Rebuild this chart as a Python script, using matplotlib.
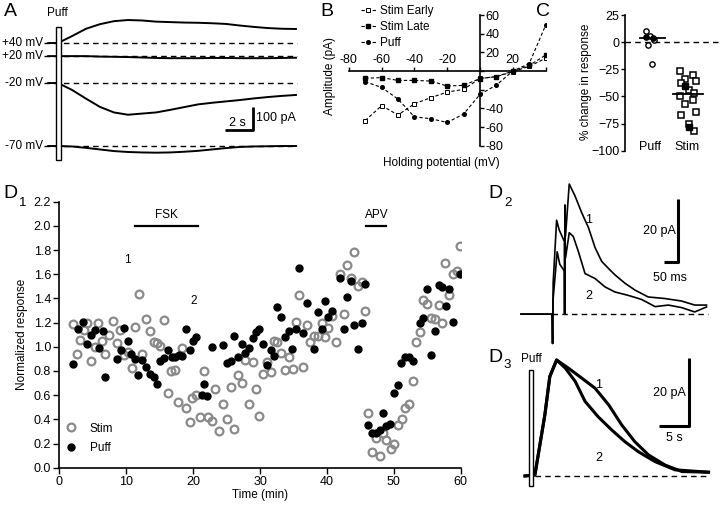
import matplotlib
matplotlib.use('Agg')
import matplotlib.pyplot as plt
from matplotlib.patches import Rectangle
from matplotlib.lines import Line2D

plt.rcParams['font.family'] = ['Liberation Sans', 'DejaVu Sans']
plt.rcParams['font.size'] = 8.5

# ---- panel A: puff responses at four holding potentials (s, pA)
a_time = [-0.7, 0, 1, 2, 3, 4, 5, 6, 7, 8, 9, 10, 11, 12, 13, 14, 15, 16, 17]
a_p40 = [0, 0, 30, 62, 82, 95, 100, 98, 93, 91, 89, 88, 86, 83, 76, 70, 65, 62, 61]
a_p20 = [0, 0, 0, 0, -2, -3, -4, -6, -8, -9, -9, -9, -8, -8, -9, -9, -9, -8, -7]
a_m20 = [0, 0, -30, -68, -104, -128, -138, -133, -128, -117, -105, -93, -86, -80, -74, -67, -61, -56, -52]
a_m70 = [0, 0, -2, -8, -15, -22, -26, -28, -29, -28, -25, -21, -15, -9, -4, -2, -1, 0, 0]
a_labels = ['+40 mV', '+20 mV', '-20 mV', '-70 mV']

# ---- panel B: I-V relation
b_volt = [-70, -60, -50, -40, -30, -20, -10, 0, 10, 20, 30, 40]
b_early = [-53, -37, -47, -35, -28.5, -22.5, -19.6, -7.8, -6, -0.7, 5, 13.6]
b_late = [-7.8, -7, -10, -10, -10.7, -16, -15.3, -8, -6, 0, 6, 17]
b_puff = [-11.4, -17.5, -30, -49, -51, -55, -46, -25, -15, 0, 8, 49]

# ---- panel C: % change
c_puff_open = [10, 6, 2, -3, -20]
c_puff_filled = [5, 4]
c_stim_open = [-27, -30, -34, -36, -38, -44, -47, -50, -53, -57, -64, -67, -75, -82]
c_stim_filled = [-40, -78]
c_means = [3.4, -48]

# ---- panel D1: time course
stim_t = [2.1, 2.6, 3.1, 3.7, 4.2, 4.7, 5.3, 5.8, 6.4, 6.9, 7.5, 8.1, 8.6, 9.1, 9.7, 10.2,
          10.8, 11.3, 11.9, 12.4, 12.9, 13.5, 14.1, 14.6, 15.1, 15.7, 16.3, 16.7, 17.3, 17.8,
          18.4, 18.9, 19.5, 19.9, 20.5, 21.1, 21.6, 22.3, 22.8, 23.3, 23.9, 24.5, 25.1, 25.6,
          26.1, 26.7, 27.3, 27.8, 28.4, 28.9, 29.4, 29.9, 30.5, 31.0, 31.6, 32.1, 32.6, 33.2,
          33.7, 34.3, 34.9, 35.4, 35.9, 36.5, 37.0, 37.5, 38.1, 38.6, 39.2, 39.7, 40.2, 40.8,
          41.4, 41.9, 42.5, 43.0, 43.6, 44.1, 44.6, 45.2, 45.7, 46.2, 46.8, 47.3, 47.9, 48.4,
          48.9, 49.6, 50.1, 50.7, 51.2, 51.7, 52.3, 52.8, 53.3, 53.9, 54.4, 54.9, 55.6, 56.1,
          56.7, 57.2, 57.7, 58.3, 58.8, 59.4, 59.9]
stim_v = [1.185, 0.94, 1.055, 1.138, 1.199, 0.885, 1.0, 1.193, 1.05, 0.94, 1.097, 1.213, 1.028,
          1.138, 0.929, 0.959, 0.821, 1.16, 1.433, 0.943, 1.232, 1.133, 1.042, 1.028, 1.009,
          1.218, 0.615, 0.802, 0.808, 0.546, 0.992, 0.496, 0.38, 0.58, 0.601, 0.416, 0.802,
          0.422, 0.386, 0.651, 0.303, 0.527, 0.40, 0.67, 0.323, 0.766, 0.697, 0.89, 0.524,
          0.876, 0.648, 0.427, 0.775, 0.876, 0.788, 1.05, 1.039, 0.945, 0.808, 0.918, 0.816,
          1.204, 1.427, 0.83, 1.18, 1.042, 1.091, 1.091, 1.193, 1.083, 1.152, 1.254, 1.042,
          1.606, 1.27, 1.675, 1.573, 1.78, 1.502, 1.538, 1.298, 0.45, 0.133, 0.248, 0.097,
          0.29, 0.229, 0.152, 0.2, 0.353, 0.403, 0.496, 0.524, 0.719, 1.042, 1.122, 1.386,
          1.353, 1.235, 1.226, 1.345, 1.199, 1.695, 1.427, 1.601, 1.626, 1.832]
puff_t = [2.1, 2.75, 3.6, 4.2, 4.7, 5.3, 5.9, 6.5, 6.9, 8.6, 9.2, 9.7, 10.2, 10.7, 11.3, 11.8,
          12.4, 13.0, 13.6, 14.1, 14.6, 15.1, 15.7, 16.2, 16.8, 17.3, 17.9, 18.4, 18.9, 19.5,
          20.0, 20.5, 21.3, 21.6, 22.1, 22.8, 24.4, 25.0, 25.6, 26.1, 26.7, 27.3, 27.8, 28.4,
          28.9, 29.4, 29.9, 30.5, 31.1, 31.6, 32.1, 32.6, 33.2, 33.7, 34.3, 34.8, 35.4, 35.9,
          36.5, 37.0, 38.1, 38.6, 39.2, 39.7, 40.2, 40.7, 41.9, 42.5, 43.0, 43.6, 44.1, 44.6,
          45.2, 45.7, 46.2, 46.8, 47.3, 47.9, 48.4, 48.9, 49.4, 50.1, 50.6, 51.1, 51.7, 52.2,
          52.8, 53.9, 54.4, 54.9, 55.6, 56.1, 56.7, 57.2, 57.8, 58.3, 58.8, 59.9]
puff_v = [0.857, 1.144, 1.207, 1.022, 1.097, 1.138, 0.987, 1.13, 0.753, 0.896, 0.973, 1.157,
          1.047, 0.94, 0.896, 0.769, 0.89, 0.832, 0.772, 0.747, 0.689, 0.885, 0.904, 0.973,
          0.918, 0.918, 0.932, 0.923, 1.149, 0.973, 1.05, 1.083, 0.60, 0.692, 0.593, 0.995,
          1.014, 0.868, 0.885, 1.088, 0.912, 1.022, 0.945, 0.987, 1.069, 1.124, 1.144, 1.022,
          0.846, 0.973, 0.926, 1.326, 1.243, 1.083, 1.13, 0.978, 1.144, 1.653, 1.116, 1.359,
          0.981, 1.29, 1.144, 1.38, 1.243, 1.298, 1.565, 1.144, 1.414, 1.546, 1.18, 0.978,
          1.193, 1.518, 0.353, 0.29, 0.284, 0.312, 0.455, 0.345, 0.361, 0.62, 0.684, 0.868,
          0.912, 0.918, 0.885, 1.193, 1.235, 1.474, 0.932, 1.133, 1.515, 1.496, 1.337, 1.474,
          1.207, 1.606]
fsk_span = [11.3, 20.7]
apv_span = [45.9, 48.9]

# ---- panel D2: evoked EPSCs (ms, pA)
d2_t1 = [0, 108, 110, 112, 124, 133, 151, 152, 153, 155, 168, 188, 211, 235, 258, 281, 304,
         327, 362, 397, 443, 501, 559, 605, 646]
d2_i1 = [0, 0, -9.4, 10, 30.1, 27, 23.3, 0, 35, 25, 41.7, 37.9, 32.6, 27.7, 21.3, 16.9, 14.7,
         12.6, 9.9, 7.7, 5.5, 5.0, 4.2, 2.9, 2.9]
d2_t2 = [0, 108, 110, 112, 126, 135, 151, 152, 153, 155, 168, 182, 200, 223, 258, 293, 327,
         374, 420, 467, 513, 559, 605, 646]
d2_i2 = [0, 0, -9.4, 5, 20, 16, 13.8, 0, 26, 18, 26.1, 24.9, 20, 13.0, 11.4, 8.7, 7.1, 6.0,
         4.7, 2.4, 2.9, 2.1, 0.7, 2.3]

# ---- panel D3: puff responses (s, pA)
d3_t1 = [0, 1.6, 3.2, 4.0, 5.1, 7.0, 9.2, 11.3, 13.5, 15.6, 17.7, 19.9, 22.6, 25.3, 29.6]
d3_i1 = [0, 0.3, 17.9, 29.2, 34.1, 31.7, 28.7, 25.8, 20.9, 15.0, 10.1, 6.2, 3.2, 1.3, 1.1]
d3_t2 = [0, 1.6, 3.2, 4.0, 5.1, 6.5, 8.1, 9.7, 11.8, 14.0, 16.1, 18.3, 21.0, 24.2, 29.6]
d3_i2 = [0, 0.3, 17.9, 29.2, 34.1, 31.7, 27.8, 21.9, 17.4, 13.5, 10.1, 7.1, 4.2, 1.8, 1.1]

W, H = 720, 509
fig = plt.figure(figsize=(7.2, 5.09), dpi=100)


def px_axes(x0, y0, x1, y1):
    return fig.add_axes([x0 / W, 1 - y1 / H, (x1 - x0) / W, (y1 - y0) / H])


def ftext(x, y, s, **kw):
    fig.text(x / W, 1 - y / H, s, **kw)


DASH = (0, (4, 3))
GRAY = '#8a8a8a'

# ================= A
ax = px_axes(44, 10, 300, 165)
ax.set_xlim(-1.0, 17.29)
ax.set_ylim(-82.6, 591.6)
ax.axis('off')
offsets = [448, 391, 274, 0]
for vals, off, lab in zip([a_p40, a_p20, a_m20, a_m70], offsets, a_labels):
    ax.plot([-1.0, 17.07], [off, off], color='k', lw=1, ls=DASH)
    ax.plot(a_time, [v + off for v in vals], color='k', lw=1.4)
    ax.text(-1.05, off, lab, ha='right', va='center', fontsize=8.5)
ax.add_patch(Rectangle((-0.12, -61), 0.3, 579, fill=True, fc='white', ec='k', lw=1, zorder=3))
ax.plot([11.93, 13.93, 13.93], [70, 70, 170], color='k', lw=2, solid_capstyle='butt')
ax.text(12.8, 72, '2 s', ha='center', va='bottom', fontsize=9)
ax.text(14.15, 122, '100 pA', ha='left', va='center', fontsize=9)
ftext(57, 13, 'Puff', ha='center', va='center', fontsize=8.5)
ftext(4, 12, 'A', ha='left', va='center', fontsize=14)

# ================= B
ax = px_axes(348.8, 15, 545.6, 145.8)
ax.set_xlim(-80, 40)
ax.set_ylim(-80, 60)
ax.plot(b_volt, b_early, ls=(0, (3, 2)), lw=0.8, color='k', marker='s', ms=3.5,
        mfc='white', mec='k', mew=0.7, label='Stim Early')
ax.plot(b_volt, b_late, ls=(0, (3, 2)), lw=0.8, color='k', marker='s', ms=3.2,
        mfc='k', mec='k', label='Stim Late')
ax.plot(b_volt, b_puff, ls=(0, (3, 2)), lw=0.8, color='k', marker='o', ms=2.6,
        mfc='k', mec='k', label='Puff')
for s in ['left', 'bottom']:
    ax.spines[s].set_visible(False)
ax.spines['right'].set_position(('data', 0))
ax.spines['top'].set_position(('data', 0))
ax.spines['right'].set_linewidth(1.2)
ax.spines['top'].set_linewidth(1.2)
ax.yaxis.tick_right()
ax.xaxis.tick_top()
ax.set_xticks(range(-80, 41, 20))
ax.set_xticklabels(['-80', '-60', '-40', '-20', '', '20', ''])
ax.set_yticks(range(-80, 61, 20))
ax.set_yticklabels(['-80', '-60', '-40', '', '', '20', '40', '60'])
ax.tick_params(length=3, width=1, pad=1, labelsize=9)
ax.legend(loc='upper left', bbox_to_anchor=(356 / W, 1.0), bbox_transform=fig.transFigure,
          frameon=False, handlelength=1.3, handletextpad=0.3, labelspacing=0.35,
          fontsize=8.5, borderaxespad=0)
ftext(330, 76, 'Amplitude (pA)', rotation=90, ha='center', va='center', fontsize=8.5)
ftext(441, 163, 'Holding potential (mV)', ha='center', va='center', fontsize=8.5)
ftext(320, 12, 'B', ha='left', va='center', fontsize=14)

# ================= C
ax = px_axes(625, 15, 720, 150.7)
ax.set_xlim(0.324, 2.89)
ax.set_ylim(-100, 25)
ax.plot([0.324, 2.89], [0, 0], color='k', lw=1, ls=DASH)
pj = [-0.12, 0.0, 0.12, -0.06, 0.06]
ax.plot([1 + pj[i % 5] for i in range(len(c_puff_open))], c_puff_open, 'o', ms=3.8,
        mfc='white', mec='k', mew=1)
ax.plot([1 - 0.1, 1 + 0.08], c_puff_filled, 'o', ms=3.8, mfc='k', mec='k')
sj = [-0.2, 0.15, -0.05, 0.25, -0.15, 0.05, 0.2]
ax.plot([2 + sj[i % 7] for i in range(len(c_stim_open))], c_stim_open, 's', ms=4.2,
        mfc='white', mec='k', mew=1.1)
ax.plot([2 - 0.05, 2 + 0.05], c_stim_filled, 's', ms=4.2, mfc='k', mec='k')
ax.plot([0.73, 1.4], [c_means[0]] * 2, color='k', lw=1.3)
ax.plot([1.62, 2.43], [c_means[1]] * 2, color='k', lw=1.3)
for s in ['top', 'right', 'bottom']:
    ax.spines[s].set_visible(False)
ax.spines['left'].set_linewidth(1.2)
ax.set_yticks([-100, -75, -50, -25, 0, 25])
ax.set_xticks([])
ax.tick_params(axis='y', length=3, width=1, pad=1, labelsize=9)
ax.text(1, -97, 'Puff', ha='center', va='center', fontsize=9)
ax.text(2, -97, 'Stim', ha='center', va='center', fontsize=9)
ftext(586, 82, '% change in response', rotation=90, ha='center', va='center', fontsize=8.5)
ftext(536, 12, 'C', ha='left', va='center', fontsize=14)

# ================= D1
ax = px_axes(59.3, 201.7, 460.7, 467.7)
ax.set_xlim(0, 60)
ax.set_ylim(0, 2.2)
ax.plot(stim_t, stim_v, 'o', ms=5.6, mfc='none', mec=GRAY, mew=1.6, label='Stim')
ax.plot(puff_t, puff_v, 'o', ms=5.0, mfc='k', mec='k', label='Puff')
ax.plot(fsk_span, [2.0, 2.0], color='k', lw=1.6)
ax.plot(apv_span, [2.0, 2.0], color='k', lw=1.6)
ax.text(sum(fsk_span) / 2, 2.04, 'FSK', ha='center', va='bottom', fontsize=8.5)
ax.text(sum(apv_span) / 2, 2.04, 'APV', ha='center', va='bottom', fontsize=8.5)
ax.text(10.1, 1.72, '1', ha='center', va='center', fontsize=8.5)
ax.text(20.1, 1.38, '2', ha='center', va='center', fontsize=8.5)
for s in ['top', 'right']:
    ax.spines[s].set_visible(False)
for s in ['left', 'bottom']:
    ax.spines[s].set_linewidth(1.2)
ax.set_xticks(range(0, 61, 10))
ax.set_yticks([i / 10 for i in range(0, 23, 2)])
ax.set_yticklabels(['%.1f' % (i / 10) for i in range(0, 23, 2)])
ax.tick_params(length=4, width=1, pad=2, labelsize=9)
ax.set_xlabel('Time (min)', fontsize=8.5, labelpad=1)
ax.set_ylabel('Normalized response', fontsize=8.5, labelpad=4)
ax.legend(loc='lower left', bbox_to_anchor=(0.0, 0.035), frameon=False, handlelength=1.2,
          handletextpad=1.0, labelspacing=0.6, fontsize=8.5, borderaxespad=0)
ftext(3, 193, 'D', ha='left', va='center', fontsize=14)
ftext(19, 203, '1', ha='left', va='center', fontsize=9.5)

# ================= D2
ax = px_axes(515, 170, 720, 350)
ax.set_xlim(-20.9, 693)
ax.set_ylim(-11.5, 46.2)
ax.axis('off')
ax.plot([108, 650], [0, 0], color='k', lw=1, ls=DASH)
ax.plot(d2_t1, d2_i1, color='k', lw=1.2)
ax.plot(d2_t2, d2_i2, color='k', lw=1.2)
ax.plot([498, 548, 548], [16.8, 16.8, 36.8], color='k', lw=2.2, solid_capstyle='butt')
ax.text(540, 26.5, '20 pA', ha='right', va='center', fontsize=9)
ax.text(520, 11.5, '50 ms', ha='center', va='center', fontsize=9)
ax.text(237, 30.3, '1', ha='center', va='center', fontsize=9)
ax.text(237, 5.8, '2', ha='center', va='center', fontsize=9)
ftext(488, 193, 'D', ha='left', va='center', fontsize=14)
ftext(504, 203, '2', ha='left', va='center', fontsize=9.5)

# ================= D3
ax = px_axes(515, 345, 720, 495)
ax.set_xlim(-1.61, 31.45)
ax.set_ylim(-5.6, 38.5)
ax.axis('off')
ax.plot([1.6, 29.6], [0, 0], color='k', lw=1, ls=DASH)
ax.plot(d3_t1, d3_i1, color='k', lw=2.2)
ax.plot(d3_t2, d3_i2, color='k', lw=2.2)
ax.add_patch(Rectangle((0.65, -2.9), 0.69, 34.1, fc='white', ec='k', lw=1, zorder=3))
ax.plot([21.6, 26.5, 26.5], [14.8, 14.8, 34.8], color='k', lw=2.2, solid_capstyle='butt')
ax.text(25.9, 24.4, '20 pA', ha='right', va='center', fontsize=9)
ax.text(24.1, 11.3, '5 s', ha='center', va='center', fontsize=9)
ax.text(11.9, 26.8, '1', ha='center', va='center', fontsize=9)
ax.text(11.9, 5.3, '2', ha='center', va='center', fontsize=9)
ax.text(1.0, 34.5, 'Puff', ha='center', va='center', fontsize=8.5)
ftext(488, 357, 'D', ha='left', va='center', fontsize=14)
ftext(503, 365, '3', ha='left', va='center', fontsize=9.5)

fig.savefig('out.png', dpi=100)
